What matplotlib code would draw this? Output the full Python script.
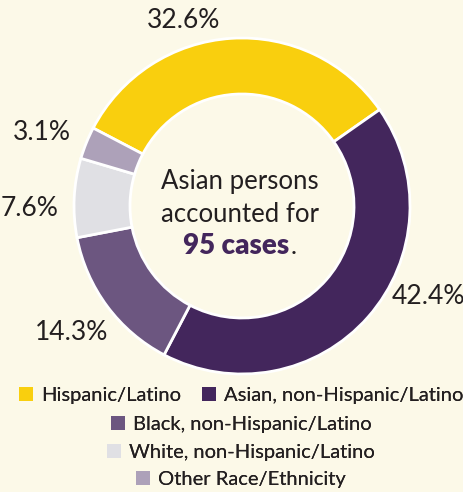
import matplotlib
matplotlib.use('Agg')
import matplotlib.pyplot as plt
from matplotlib.patches import Patch

groups = ['Hispanic/Latino', 'Asian, non-Hispanic/Latino', 'Black, non-Hispanic/Latino',
          'White, non-Hispanic/Latino', 'Other Race/Ethnicity']
shares = [32.6, 42.4, 14.3, 7.6, 3.1]
colors = ['#F9CF0E', '#43265C', '#6C5680', '#E0E0E4', '#ADA1B9']
pct_labels = ['32.6%', '42.4%', '14.3%', '7.6%', '3.1%']
legend_rows = [[0, 1], [2], [3], [4]]

bg = '#FCF9E8'
plt.rcParams['font.family'] = ['Lato', 'DejaVu Sans']

fig = plt.figure(figsize=(4.64, 4.92), dpi=100, facecolor=bg)
ax = fig.add_axes([0, 0, 1, 1])
ax.set_facecolor(bg)

# clockwise, Hispanic ending at ~35 deg
start = 35 + shares[0] * 3.6
wedges, _ = ax.pie(shares, colors=colors, startangle=start, counterclock=False,
                   center=(242, 286), radius=168, frame=True,
                   wedgeprops=dict(width=56, edgecolor='white', linewidth=2))
ax.set_xlim(0, 464)
ax.set_ylim(0, 492)
ax.set_aspect('equal')
ax.axis('off')

label_pos = [(184, 472), (428, 195), (72, 160), (30, 284), (42, 360)]
for (x, y), t in zip(label_pos, pct_labels):
    ax.text(x, y, t, ha='center', va='center', fontsize=19, color='#231F20')

ax.text(240, 311, 'Asian persons', ha='center', va='center', fontsize=18.5, color='#231F20')
ax.text(240, 278, 'accounted for', ha='center', va='center', fontsize=18.5, color='#231F20')
big = ax.text(236, 246, '95 cases', ha='center', va='center', fontsize=20, color='#43265C',
              fontweight='heavy')
ax.annotate('.', xy=(1, 0), xycoords=big, ha='left', va='bottom', fontsize=18.5,
            color='#231F20', xytext=(1, 0), textcoords='offset points')

row_y = [0.197, 0.137, 0.080, 0.025]
for row, y in zip(legend_rows, row_y):
    handles = [Patch(facecolor=colors[i], edgecolor='none', label=groups[i]) for i in row]
    leg = fig.legend(handles=handles, loc='center', bbox_to_anchor=(0.52, y), ncol=len(row),
                     frameon=False, fontsize=14.5, handlelength=0.7, handleheight=0.7,
                     handletextpad=0.4, columnspacing=1.0, borderpad=0, labelcolor='#231F20')
    fig.add_artist(leg)

fig.savefig('out.png', dpi=100, facecolor=bg)
